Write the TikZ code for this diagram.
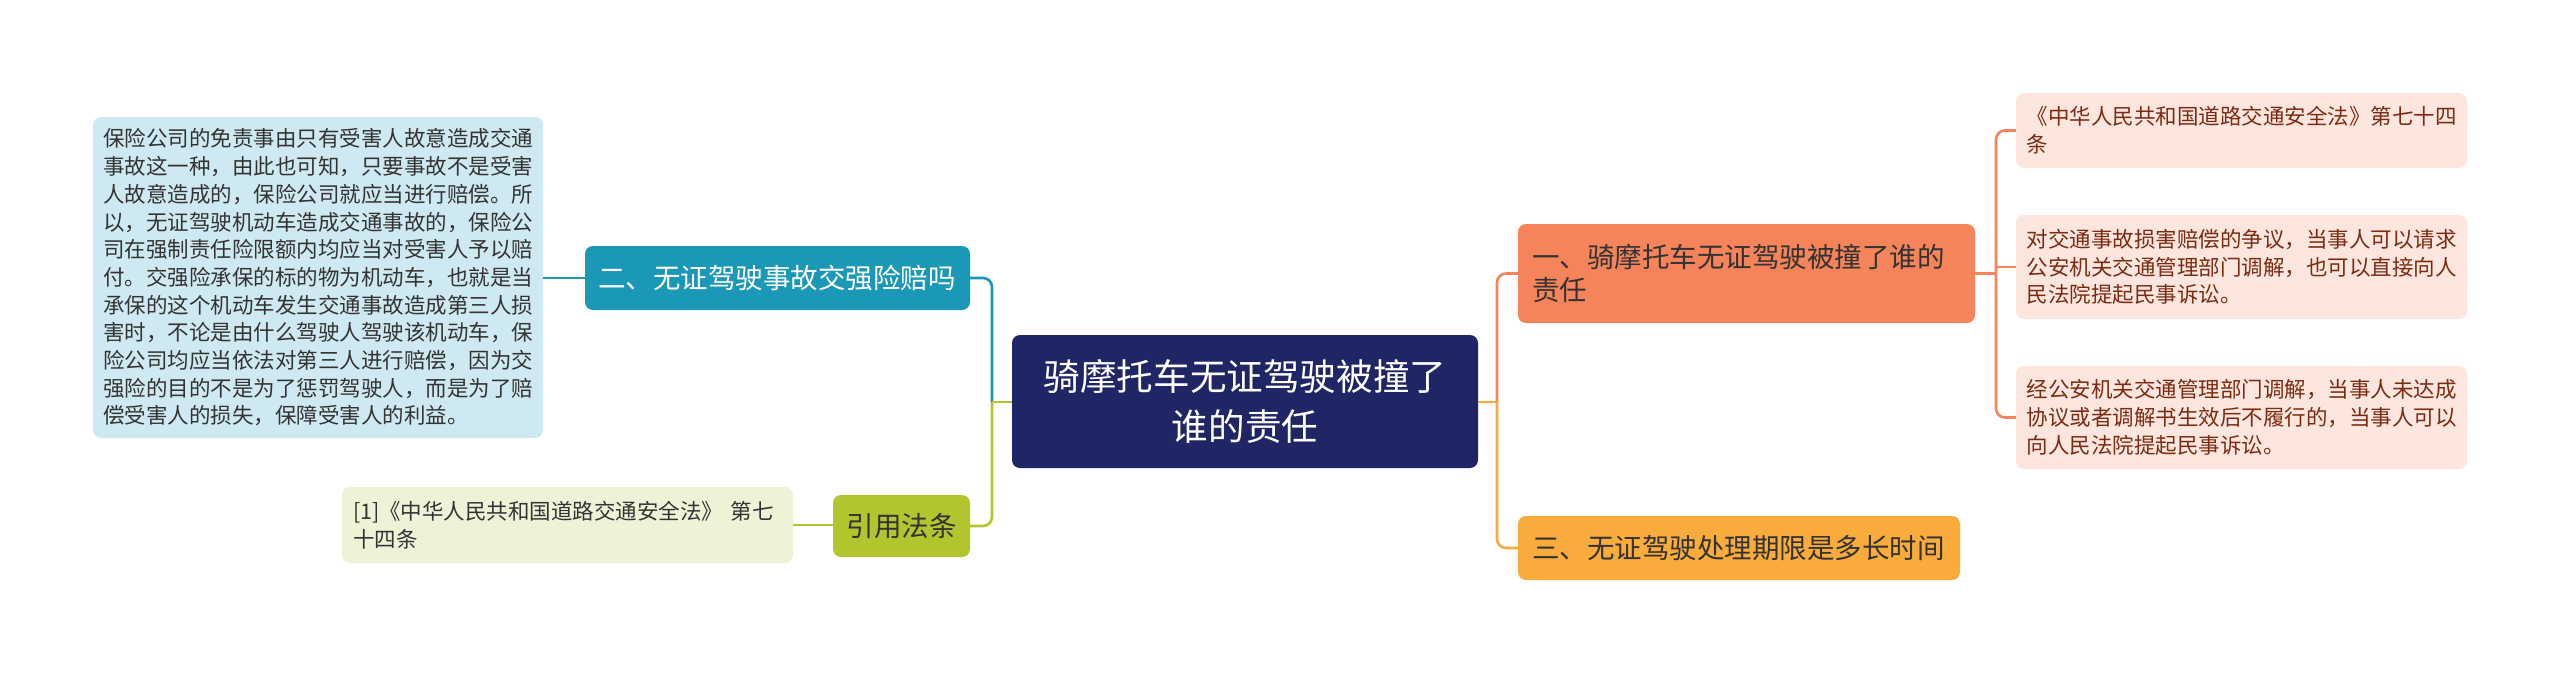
\documentclass[tikz,border=0pt]{standalone}
\usepackage{fontspec}
\setmainfont{Noto Sans CJK SC}
\definecolor{cNavy}{HTML}{1F2565}
\definecolor{cTeal}{HTML}{1B98B5}
\definecolor{cTealL}{HTML}{CFE9F2}
\definecolor{cLime}{HTML}{B3C52E}
\definecolor{cLimeL}{HTML}{EEF3D8}
\definecolor{cCoral}{HTML}{F5845A}
\definecolor{cCoralL}{HTML}{FDE6DE}
\definecolor{cAmber}{HTML}{F9AC3C}
\definecolor{cTxt}{HTML}{333333}
\definecolor{cRedTxt}{HTML}{7B2B12}
\tikzset{
  boxbase/.style={rounded corners=8pt, inner sep=0pt, anchor=center},
  rootbox/.style={boxbase, fill=cNavy, text=white, align=center, text width=440pt,
    font=\fontsize{36.6}{50}\selectfont},
  topicbox/.style={boxbase, text=cTxt, align=left, font=\fontsize{27.5}{33}\selectfont},
  leafbox/.style={boxbase, align=left, font=\fontsize{21.5}{27.7}\selectfont},
  link/.style={line width=2.6pt, rounded corners=9pt},
}
\begin{document}
\begin{tikzpicture}[x=1pt,y=-1pt]
\useasboundingbox (0,0) rectangle (2560,673);
\fill[white] (0,0) rectangle (2560,673);

% root
\node[rootbox, minimum width=466pt, minimum height=133pt] (root) at (1245,401.5)
  {骑摩托车无证驾驶被撞了\\谁的责任};

% left topics
\node[topicbox, fill=cTeal, text=white, minimum width=385pt, minimum height=64pt, text width=359pt] (t2) at (777.5,278)
  {二、无证驾驶事故交强险赔吗};
\node[topicbox, fill=cLime, minimum width=137pt, minimum height=62pt, text width=110pt] (tref) at (901.5,526)
  {引用法条};

% right topics
\node[topicbox, fill=cCoral, minimum width=457pt, minimum height=99pt, text width=429pt] (t1) at (1746.5,273.5)
  {一、骑摩托车无证驾驶被撞了谁的\\责任};
\node[topicbox, fill=cAmber, minimum width=442pt, minimum height=64pt, text width=414pt] (t3) at (1739,548)
  {三、无证驾驶处理期限是多长时间};

% left leaves
\node[leafbox, fill=cTealL, text=cTxt, minimum width=450pt, minimum height=321pt, text width=430pt] (l2) at (318,277.5)
  {保险公司的免责事由只有受害人故意造成交通\\
   事故这一种，由此也可知，只要事故不是受害\\
   人故意造成的，保险公司就应当进行赔偿。所\\
   以，无证驾驶机动车造成交通事故的，保险公\\
   司在强制责任险限额内均应当对受害人予以赔\\
   付。交强险承保的标的物为机动车，也就是当\\
   承保的这个机动车发生交通事故造成第三人损\\
   害时，不论是由什么驾驶人驾驶该机动车，保\\
   险公司均应当依法对第三人进行赔偿，因为交\\
   强险的目的不是为了惩罚驾驶人，而是为了赔\\
   偿受害人的损失，保障受害人的利益。};
\node[leafbox, fill=cLimeL, text=cTxt, minimum width=451pt, minimum height=76pt, text width=429pt] (lref) at (567.5,525)
  {[1]《中华人民共和国道路交通安全法》 第七\\十四条};

% right leaves
\node[leafbox, fill=cCoralL, text=cRedTxt, minimum width=451pt, minimum height=75pt, text width=430pt] (la) at (2241.5,130.5)
  {《中华人民共和国道路交通安全法》第七十四\\条};
\node[leafbox, fill=cCoralL, text=cRedTxt, minimum width=451pt, minimum height=104pt, text width=430pt] (lb) at (2241.5,267)
  {对交通事故损害赔偿的争议，当事人可以请求\\
   公安机关交通管理部门调解，也可以直接向人\\
   民法院提起民事诉讼。};
\node[leafbox, fill=cCoralL, text=cRedTxt, minimum width=451pt, minimum height=103pt, text width=430pt] (lc) at (2241.5,417.5)
  {经公安机关交通管理部门调解，当事人未达成\\
   协议或者调解书生效后不履行的，当事人可以\\
   向人民法院提起民事诉讼。};

% junctions
\coordinate (jl) at (992,402);
\coordinate (jr) at (1497,402);
\coordinate (jo) at (1996,273.5);

% left connectors
\draw[link, cTeal] (t2.east) -| (jl);
\draw[link, cLime] (tref.east) -| (jl);
\draw[link, cLime] (root.west |- jl) -- (jl);
\draw[link, cTeal] (l2.east |- t2.west) -- (t2.west);
\draw[link, cLime] (lref.east) -- (tref.west |- lref.east);

% right connectors
\draw[link, cCoral] (t1.west) -| (jr);
\draw[link, cAmber] (t3.west) -| (jr);
\draw[link, cAmber] (root.east |- jr) -- (jr);
\draw[link, cCoral] (t1.east) -- (jo);
\draw[link, cCoral] (la.west) -| (jo);
\draw[link, cCoral] (lc.west) -| (jo);
\draw[link, cCoral] (lb.west) -- (lb.west -| jo);
\end{tikzpicture}
\end{document}
